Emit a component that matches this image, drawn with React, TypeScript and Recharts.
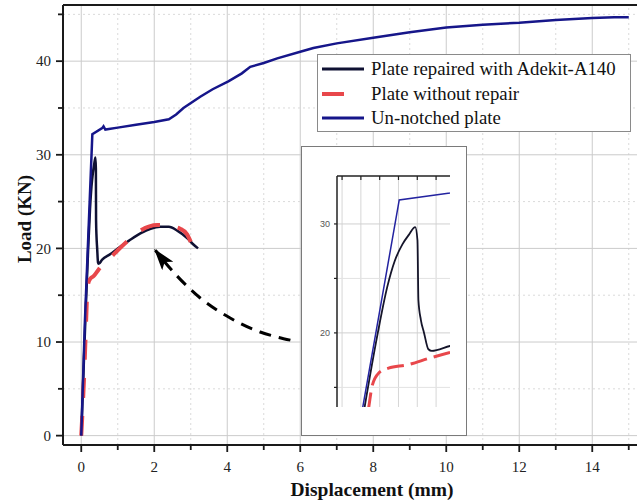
import { LineChart, Line, XAxis, YAxis, ReferenceLine } from 'recharts'

const serif = '"Liberation Serif", "Times New Roman", serif'

const REPAIRED = '#0f1133'
const UNNOTCHED = '#16168a'
const UNREPAIRED = '#e8474b'
const AXIS = '#1a1a1a'

// Plate repaired with Adekit-A140
const repairedX = [0, 0.12, 0.19, 0.24, 0.28, 0.32, 0.355, 0.389, 0.401, 0.406, 0.419, 0.436, 0.459, 0.477, 0.574, 0.8, 1.0, 1.3, 1.62, 1.9, 2.16, 2.4, 2.63, 2.9, 3.05, 3.2]
const repairedY = [0, 13.2, 20.0, 24.2, 26.6, 28.1, 29.0, 29.7, 28.5, 23.0, 21.2, 20.0, 18.5, 18.35, 18.8, 19.4, 20.0, 20.8, 21.6, 22.1, 22.3, 22.3, 21.9, 21.1, 20.5, 20.0]

// Plate without repair
const unrepairedX = [0, 0.08, 0.142, 0.159, 0.194, 0.247, 0.345, 0.468, 0.574, 0.8, 1.0, 1.3, 1.62, 2.08, 2.4, 2.71, 2.9, 3.0]
const unrepairedY = [0, 6.5, 13.2, 15.07, 16.3, 16.76, 17.06, 17.7, 18.2, 19.0, 19.8, 20.9, 21.9, 22.5, 22.4, 22.1, 21.5, 20.7]

// Un-notched plate
const unnotchedX = [0, 0.1, 0.304, 0.574, 0.61, 0.66, 1.0, 1.5, 2.0, 2.4, 2.6, 2.8, 3.26, 3.6, 4.03, 4.4, 4.63, 5.0, 5.37, 6.0, 6.36, 7, 8, 9, 10, 11, 12, 13, 14, 14.6, 15.0]
const unnotchedY = [0, 12.2, 32.2, 32.85, 33.05, 32.7, 32.9, 33.2, 33.5, 33.8, 34.3, 35.0, 36.2, 37.0, 37.85, 38.7, 39.4, 39.8, 40.3, 41.0, 41.4, 41.9, 42.5, 43.1, 43.6, 43.9, 44.1, 44.4, 44.6, 44.7, 44.7]

// dashed arrow from the inset back to the curves
const arrowX = [5.73, 4.9, 4.08, 3.26, 2.52, 2.03]
const arrowY = [10.2, 11.07, 12.56, 14.7, 17.5, 19.8]

const xTicks = [0, 1, 2, 3, 4, 5, 6, 7, 8, 9, 10, 11, 12, 13, 14, 15]
const xMajor = [0, 2, 4, 6, 8, 10, 12, 14]
const xMinor = [1, 3, 5, 7, 9, 11, 13, 15]
const yTicks = [0, 5, 10, 15, 20, 25, 30, 35, 40, 45]
const yMajor = [0, 10, 20, 30, 40]
const yMinor = [5, 15, 25, 35, 45]

const insetXTicks = [0, 0.1, 0.2, 0.3, 0.4, 0.5]
const insetYTicks = [15, 20, 25, 30]
const insetYMajor = [20, 30]
const insetYMinor = [15, 25]

const legendNames = ['Plate repaired with Adekit-A140', 'Plate without repair', 'Un-notched plate']

const zip = (xs: number[], ys: number[]) => xs.map((x, i) => ({ x, y: ys[i] }))

const repaired = zip(repairedX, repairedY)
const unrepaired = zip(unrepairedX, unrepairedY)
const unnotched = zip(unnotchedX, unnotchedY)
const arrow = zip(arrowX, arrowY)

const BottomTick = ({ x, y, payload }: any) => {
  const major = payload.value % 2 === 0
  return (
    <g>
      <line x1={x} y1={y} x2={x} y2={y + (major ? 7 : 5)} stroke={AXIS} strokeWidth={1.8} />
      {major && (
        <text x={x} y={y + 27} textAnchor="middle" fontSize={15} fontFamily={serif} fill="#222">
          {payload.value}
        </text>
      )}
    </g>
  )
}

const TopTick = ({ x, y, payload }: any) => {
  const major = payload.value % 2 === 0
  return <line x1={x} y1={y} x2={x} y2={y + (major ? 8 : 5)} stroke={AXIS} strokeWidth={1.8} />
}

const LeftTick = ({ x, y, payload }: any) => {
  const major = payload.value % 10 === 0
  return (
    <g>
      <line x1={x} y1={y} x2={x - (major ? 7 : 5)} y2={y} stroke={AXIS} strokeWidth={1.8} />
      {major && (
        <text x={x - 12} y={y} dy="0.35em" textAnchor="end" fontSize={15} fontFamily={serif} fill="#222">
          {payload.value}
        </text>
      )}
    </g>
  )
}

const InsetTopTick = ({ x, y }: any) => (
  <line x1={x} y1={y} x2={x} y2={y + 4} stroke="#222" strokeWidth={1.2} />
)

const InsetLeftTick = ({ x, y, payload }: any) => (
  <g>
    <line x1={x} y1={y} x2={x - 3} y2={y} stroke="#222" strokeWidth={1.2} />
    {payload.value % 10 === 0 && (
      <text x={x - 7} y={y} dy="0.35em" textAnchor="end" fontSize={9} fontFamily="Arial, sans-serif" fill="#555">
        {payload.value}
      </text>
    )}
  </g>
)

function Legend() {
  const sample = [
    <line key="a" x1={2} y1={5} x2={44} y2={5} stroke={REPAIRED} strokeWidth={3} />,
    <line key="b" x1={2} y1={5} x2={24} y2={5} stroke={UNREPAIRED} strokeWidth={4} />,
    <line key="c" x1={2} y1={5} x2={44} y2={5} stroke={UNNOTCHED} strokeWidth={3} />,
  ]
  return (
    <div
      style={{
        position: 'absolute', left: 317, top: 54, width: 314, height: 78, boxSizing: 'border-box',
        border: '1px solid #8a8a8a', background: '#fff', paddingTop: 2,
      }}
    >
      {legendNames.map((name, i) => (
        <div key={name} style={{ display: 'flex', alignItems: 'center', height: 24.5 }}>
          <svg width={50} height={10} style={{ marginLeft: 2, marginRight: 1 }}>{sample[i]}</svg>
          <span style={{ fontFamily: serif, fontSize: 18.8, color: '#111', whiteSpace: 'nowrap' }}>{name}</span>
        </div>
      ))}
    </div>
  )
}

function Inset() {
  return (
    <div
      style={{
        position: 'absolute', left: 301, top: 146, width: 166, height: 290, boxSizing: 'border-box',
        border: '1px solid #7a7a7a', background: '#fff',
      }}
    >
      <LineChart width={164} height={288} margin={{ top: 29, right: 16, left: 0, bottom: 28 }}>
        {insetXTicks.map((v) => <ReferenceLine key={'ix' + v} xAxisId="it" x={v} stroke="#d6d6d6" />)}
        {insetYMajor.map((v) => <ReferenceLine key={'iy' + v} xAxisId="it" y={v} stroke="#d0d0d0" />)}
        {insetYMinor.map((v) => <ReferenceLine key={'im' + v} xAxisId="it" y={v} stroke="#e2e2e2" />)}
        <XAxis
          xAxisId="it" orientation="top" mirror type="number" dataKey="x"
          domain={[-0.027, 0.574]} allowDataOverflow ticks={insetXTicks} interval={0}
          tickSize={0} tickMargin={0} tickLine={false} tick={<InsetTopTick />}
          axisLine={{ stroke: '#222', strokeWidth: 1.5 }}
        />
        <YAxis
          type="number" dataKey="y" domain={[13.2, 34.4]} allowDataOverflow width={35}
          ticks={insetYTicks} interval={0} tickSize={0} tickMargin={0} tickLine={false}
          tick={<InsetLeftTick />} axisLine={{ stroke: '#222', strokeWidth: 1.5 }}
        />
        <Line xAxisId="it" data={repaired} dataKey="y" type="monotone" stroke="#15152a" strokeWidth={1.8} dot={false} isAnimationActive={false} />
        <Line xAxisId="it" data={unrepaired} dataKey="y" type="monotone" stroke={UNREPAIRED} strokeWidth={3} strokeDasharray="17 7" dot={false} isAnimationActive={false} />
        <Line xAxisId="it" data={unnotched} dataKey="y" type="linear" stroke="#2323a0" strokeWidth={1.5} dot={false} isAnimationActive={false} />
      </LineChart>
    </div>
  )
}

export default function App() {
  return (
    <div style={{ position: 'fixed', left: 0, top: 0, width: 637, height: 503, overflow: 'hidden', background: '#fff' }}>
      <LineChart width={700} height={503} margin={{ top: 5, right: 53, left: 0, bottom: 0 }}>
        <defs>
          <marker id="arrowHead" markerWidth={22} markerHeight={14} refX={20} refY={7} orient="auto" markerUnits="userSpaceOnUse">
            <path d="M0,0 L22,7 L0,14 L5,7 Z" fill="#000" />
          </marker>
        </defs>
        {xMajor.map((v) => <ReferenceLine key={'gx' + v} x={v} stroke="#cbcbcb" />)}
        {xMinor.map((v) => <ReferenceLine key={'mx' + v} x={v} stroke="#dadada" strokeDasharray="2 3" />)}
        {yMajor.map((v) => <ReferenceLine key={'gy' + v} y={v} stroke="#cbcbcb" />)}
        {yMinor.map((v) => <ReferenceLine key={'my' + v} y={v} stroke="#dadada" strokeDasharray="2 3" />)}
        <XAxis
          type="number" dataKey="x" domain={[-0.5, 15.5]} allowDataOverflow ticks={xTicks} interval={0}
          height={58} tickSize={0} tickMargin={0} tickLine={false} tick={<BottomTick />}
          axisLine={{ stroke: AXIS, strokeWidth: 2 }}
          label={() => (
            <text x={372} y={496} textAnchor="middle" fontSize={19.5} fontWeight="bold" fontFamily={serif} fill="#111">
              Displacement (mm)
            </text>
          )}
        />
        <XAxis
          xAxisId="top" orientation="top" mirror type="number" domain={[-0.5, 15.5]} allowDataOverflow
          ticks={xTicks} interval={0} tickSize={0} tickMargin={0} tickLine={false} tick={<TopTick />}
          axisLine={{ stroke: AXIS, strokeWidth: 2 }}
        />
        <YAxis
          type="number" dataKey="y" domain={[-1, 46]} allowDataOverflow ticks={yTicks} interval={0}
          width={63} tickSize={0} tickMargin={0} tickLine={false} tick={<LeftTick />}
          axisLine={{ stroke: AXIS, strokeWidth: 2 }}
          label={() => (
            <text x={24} y={219} transform="rotate(-90 24 219)" textAnchor="middle" dominantBaseline="central"
              fontSize={19} fontWeight="bold" fontFamily={serif} fill="#111">
              Load (KN)
            </text>
          )}
        />
        <Line data={repaired} dataKey="y" type="monotone" stroke={REPAIRED} strokeWidth={2.5} dot={false} isAnimationActive={false} />
        <Line data={unrepaired} dataKey="y" type="monotone" stroke={UNREPAIRED} strokeWidth={4} strokeDasharray="20 18" dot={false} isAnimationActive={false} />
        <Line data={unnotched} dataKey="y" type="linear" stroke={UNNOTCHED} strokeWidth={2.5} dot={false} isAnimationActive={false} />
        <Line data={arrow} dataKey="y" type="natural" stroke="#000" strokeWidth={3} strokeDasharray="12 8" markerEnd="url(#arrowHead)" dot={false} isAnimationActive={false} />
      </LineChart>
      <Legend />
      <Inset />
    </div>
  )
}
